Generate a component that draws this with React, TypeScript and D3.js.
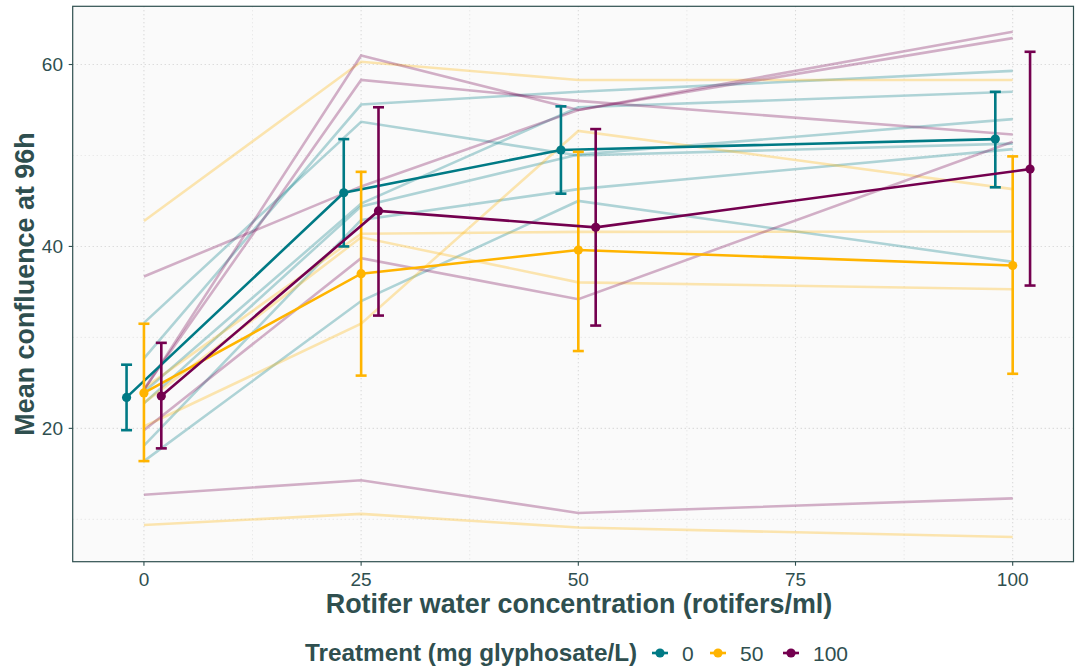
import React from "react";
import { scaleLinear, line } from "d3";

const W = 1075;
const H = 666;
const panel = { left: 72.7, top: 6.3, right: 1073.5, bottom: 561.7 };

const concentrations = [0, 25, 50, 100];
const treatments = ["0", "50", "100"];
const colors = ["#007A85", "#FFB400", "#74004F"];
const dodge = [-2, 0, 2];

// replicate lines, one per row, values at 0, 25, 50, 100 rotifers/ml
const reps0 = [
  [31.6, 53.7, 50.0, 51.3],
  [27.7, 55.6, 57.0, 59.3],
  [24.0, 44.7, 55.3, 57.0],
  [22.75, 44.4, 50.1, 54.0],
  [18.1, 42.9, 46.3, 50.7],
  [16.4, 34.0, 45.0, 38.3],
];
const reps50 = [
  [42.8, 60.3, 58.3, 58.3],
  [24.4, 41.4, 41.6, 41.65],
  [22.8, 41.0, 36.05, 35.3],
  [20.2, 31.5, 52.7, 46.3],
  [9.37, 10.6, 9.1, 8.05],
];
const reps100 = [
  [24.2, 61.0, 55.0, 62.9],
  [24.3, 58.3, 56.0, 52.3],
  [36.7, 46.6, 55.0, 63.6],
  [19.8, 38.7, 34.2, 51.5],
  [12.7, 14.3, 10.7, 12.3],
];

const means0 = [23.4, 45.9, 50.6, 51.8];
const lower0 = [19.8, 40.0, 45.8, 46.5];
const upper0 = [27.0, 51.8, 55.4, 57.0];
const means50 = [23.9, 37.0, 39.6, 37.9];
const lower50 = [16.4, 25.8, 28.5, 26.0];
const upper50 = [31.5, 48.2, 50.4, 49.9];
const means100 = [23.55, 43.9, 42.1, 48.5];
const lower100 = [17.8, 32.4, 31.3, 35.7];
const upper100 = [29.4, 55.3, 52.9, 61.4];

const xTicks = [0, 25, 50, 75, 100];
const xMinor = [12.5, 37.5, 62.5, 87.5];
const yTicks = [20, 40, 60];
const yMinor = [10, 30, 50];

const ink = "#2F4F4F";
const font = "'Liberation Sans', Arial, sans-serif";

export default function App() {
  const x = scaleLinear().domain([-8.2, 107.0]).range([panel.left, panel.right]);
  const y = scaleLinear().domain([5.34, 66.4]).range([panel.bottom, panel.top]);

  const groups = [
    { reps: reps0, means: means0, lo: lower0, hi: upper0 },
    { reps: reps50, means: means50, lo: lower50, hi: upper50 },
    { reps: reps100, means: means100, lo: lower100, hi: upper100 },
  ];

  const repLine = line<number>()
    .x((_, i) => x(concentrations[i]))
    .y((d) => y(d));

  const cap = 5.5;

  return (
    <svg
      width={W}
      height={H}
      style={{ position: "absolute", left: 0, top: 0, display: "block" }}
      fontFamily={font}
    >
      <rect width={W} height={H} fill="#ffffff" />
      <rect
        x={panel.left}
        y={panel.top}
        width={panel.right - panel.left}
        height={panel.bottom - panel.top}
        fill="#FAFAFA"
      />
      {/* grid */}
      {xMinor.map((t) => (
        <line key={"xm" + t} x1={x(t)} x2={x(t)} y1={panel.top} y2={panel.bottom}
          stroke="#DADADA" strokeWidth={0.8} strokeDasharray="1,3" />
      ))}
      {yMinor.map((t) => (
        <line key={"ym" + t} y1={y(t)} y2={y(t)} x1={panel.left} x2={panel.right}
          stroke="#DADADA" strokeWidth={0.8} strokeDasharray="1,3" />
      ))}
      {xTicks.map((t) => (
        <line key={"xg" + t} x1={x(t)} x2={x(t)} y1={panel.top} y2={panel.bottom}
          stroke="#CFCFCF" strokeWidth={1.1} strokeDasharray="1,3" />
      ))}
      {yTicks.map((t) => (
        <line key={"yg" + t} y1={y(t)} y2={y(t)} x1={panel.left} x2={panel.right}
          stroke="#CFCFCF" strokeWidth={1.1} strokeDasharray="1,3" />
      ))}

      {/* replicate lines */}
      {groups.map((g, gi) =>
        g.reps.map((r, ri) => (
          <path key={`r${gi}-${ri}`} d={repLine(r) || ""} fill="none"
            stroke={colors[gi]} strokeOpacity={0.3} strokeWidth={2.6} />
        ))
      )}

      {/* means with error bars */}
      {groups.map((g, gi) => {
        const mx = (i: number) => x(concentrations[i] + dodge[gi]);
        const meanLine = line<number>()
          .x((_, i) => mx(i))
          .y((d) => y(d));
        return (
          <g key={"m" + gi}>
            <path d={meanLine(g.means) || ""} fill="none" stroke={colors[gi]} strokeWidth={2.6} />
            {g.means.map((m, i) => (
              <g key={i} stroke={colors[gi]} strokeWidth={2.6}>
                <line x1={mx(i)} x2={mx(i)} y1={y(g.lo[i])} y2={y(g.hi[i])} />
                <line x1={mx(i) - cap} x2={mx(i) + cap} y1={y(g.lo[i])} y2={y(g.lo[i])} />
                <line x1={mx(i) - cap} x2={mx(i) + cap} y1={y(g.hi[i])} y2={y(g.hi[i])} />
                <circle cx={mx(i)} cy={y(m)} r={4.6} fill={colors[gi]} stroke="none" />
              </g>
            ))}
          </g>
        );
      })}

      {/* panel border */}
      <rect
        x={panel.left}
        y={panel.top}
        width={panel.right - panel.left}
        height={panel.bottom - panel.top}
        fill="none"
        stroke={ink}
        strokeWidth={1.2}
      />

      {/* axes */}
      {xTicks.map((t) => (
        <g key={"xt" + t}>
          <line x1={x(t)} x2={x(t)} y1={panel.bottom} y2={panel.bottom + 4} stroke={ink} strokeWidth={1.1} />
          <text x={x(t)} y={586} textAnchor="middle" fontSize={19} fill={ink}>{t}</text>
        </g>
      ))}
      {yTicks.map((t) => (
        <g key={"yt" + t}>
          <line x1={panel.left - 4} x2={panel.left} y1={y(t)} y2={y(t)} stroke={ink} strokeWidth={1.1} />
          <text x={63} y={y(t) + 6.8} textAnchor="end" fontSize={19} fill={ink}>{t}</text>
        </g>
      ))}

      <text x={579} y={613} textAnchor="middle" fontSize={26.9} fontWeight="bold" fill={ink}>
        Rotifer water concentration (rotifers/ml)
      </text>
      <text transform={`translate(34,${(panel.top + panel.bottom) / 2}) rotate(-90)`}
        textAnchor="middle" fontSize={26.9} fontWeight="bold" fill={ink}>
        Mean confluence at 96h
      </text>

      {/* legend */}
      <text x={305} y={661} fontSize={24.3} fontWeight="bold" fill={ink}>
        Treatment (mg glyphosate/L)
      </text>
      {treatments.map((t, i) => {
        const kx = [660, 718, 791][i];
        return (
          <g key={"lg" + t}>
            <line x1={kx - 8} x2={kx + 8} y1={653} y2={653} stroke={colors[i]} strokeWidth={2.6} />
            <circle cx={kx} cy={653} r={4.6} fill={colors[i]} />
            <text x={kx + 22} y={661} fontSize={21} fill={ink}>{t}</text>
          </g>
        );
      })}
    </svg>
  );
}
